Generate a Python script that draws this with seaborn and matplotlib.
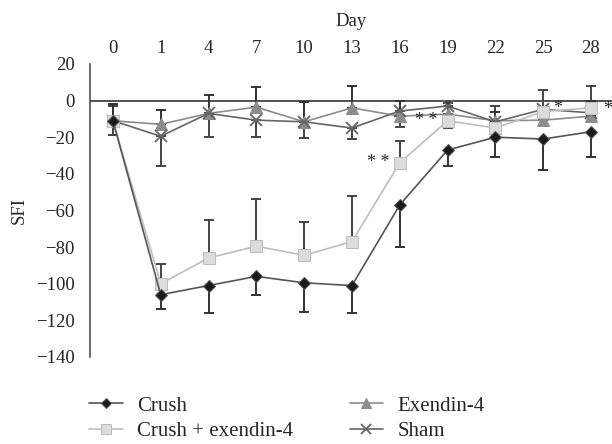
import numpy as np
import pandas as pd
import seaborn as sns
import matplotlib.pyplot as plt

days = ['0', '1', '4', '7', '10', '13', '16', '19', '22', '25', '28']

crush = [-11, -106, -101, -96, -99.5, -101, -57, -27, -20, -21, -17]
crush_err = [8, 8, 15, 10, 16, 15, 23, 9, 11, 17, 14]           # drawn downward
crush_ex = [-11, -100, -86, -79.5, -84.5, -77, -34, -11, -15, -6, -4]
crush_ex_err = [8, 11, 21, 26, 18, 25, 12, 10, 12, 12, 12]      # drawn upward
exendin = [-11, -13, -7, -3.6, -11.6, -4, -8.5, -7.4, -11, -10.7, -8.5]
exendin_err = [9, 8, 10, 11, 11, 12, 8, 6, 5, 7, 8]               # drawn upward
sham = [-11, -19.5, -7, -10.7, -11.6, -15, -5.7, -3, -11.6, -4.8, -6.7]
sham_err = [8, 16, 13, 9, 9, 6, 9, 12, 5, 5, 5]                   # drawn downward

x = np.arange(len(days))
df = pd.DataFrame({'pos': x, 'Crush': crush, 'Crush + exendin-4': crush_ex,
                   'Exendin-4': exendin, 'Sham': sham})

sns.set_style('white')
plt.rcParams['font.family'] = ['Liberation Serif', 'DejaVu Serif']

fig = plt.figure(figsize=(6.12, 4.44), dpi=100)
ax = fig.add_axes([0.147, 0.196, 0.853, 0.66])

ax.axhline(0, color='#222222', lw=1.1, zorder=1)

# error bars (one sided)
ax.errorbar(x, crush, yerr=[crush_err, np.zeros(len(x))], fmt='none',
            ecolor='#333333', elinewidth=1.4, capsize=3.5, capthick=1.4, zorder=2)
ax.errorbar(x, crush_ex, yerr=[np.zeros(len(x)), crush_ex_err], fmt='none',
            ecolor='#444444', elinewidth=1.4, capsize=3.5, capthick=1.4, zorder=2)
ax.errorbar(x, exendin, yerr=[np.zeros(len(x)), exendin_err], fmt='none',
            ecolor='#333333', elinewidth=1.4, capsize=3.5, capthick=1.4, zorder=2)
ax.errorbar(x, sham, yerr=[sham_err, np.zeros(len(x))], fmt='none',
            ecolor='#444444', elinewidth=1.4, capsize=3.5, capthick=1.4, zorder=2)

sns.lineplot(data=df, x='pos', y='Crush', ax=ax, color='#555555', lw=1.2,
             marker='D', markersize=6, markerfacecolor='#1a1a1a',
             markeredgecolor='#555555', label='Crush', zorder=5)
sns.lineplot(data=df, x='pos', y='Crush + exendin-4', ax=ax, color='#bdbdbd', lw=1.2,
             marker='s', markersize=9, markerfacecolor='#dcdcdc',
             markeredgecolor='#bdbdbd', label='Crush + exendin-4', zorder=4)
sns.lineplot(data=df, x='pos', y='Exendin-4', ax=ax, color='#8c8c8c', lw=1.2,
             marker='^', markersize=9, markerfacecolor='#8c8c8c',
             markeredgecolor='#8c8c8c', label='Exendin-4', zorder=3)
sns.lineplot(data=df, x='pos', y='Sham', ax=ax, color='#666666', lw=1.2,
             marker='x', markersize=9, markeredgewidth=1.3, markeredgecolor='#666666',
             label='Sham', zorder=3)

# significance marks
ax.text(6 - 0.22, crush_ex[6], '* *', ha='right', va='center', fontsize=13)
ax.text(7 - 0.22, crush_ex[7], '* *', ha='right', va='center', fontsize=13)
ax.text(9 + 0.2, sham[9] + 0.5, '*', ha='left', va='center', fontsize=13)
ax.text(10 + 0.25, crush_ex[10] - 1, '*', ha='left', va='center', fontsize=13)

ax.set_xlim(-0.48, 10.44)
ax.set_ylim(-140, 20)
ax.set_yticks(np.arange(-140, 21, 20))
ax.set_yticklabels([str(v).replace('-', '\u2212') for v in range(-140, 21, 20)])
ax.set_xticks(x)
ax.set_xticklabels(days)
ax.xaxis.tick_top()
ax.xaxis.set_label_position('top')
ax.set_xlabel('Day', fontsize=13.5, labelpad=10)
ax.set_ylabel('SFI', fontsize=13.5, labelpad=6)
ax.tick_params(axis='x', length=0, labelsize=13.5, pad=5)
ax.tick_params(axis='y', length=0, labelsize=13.5, pad=11)

for s in ['top', 'right', 'bottom']:
    ax.spines[s].set_visible(False)
ax.spines['left'].set_color('#444444')
ax.spines['left'].set_linewidth(1.1)

ax.legend(loc='upper left', bbox_to_anchor=(-0.017, -0.105), ncol=2, frameon=False,
          fontsize=15, handlelength=1.62, columnspacing=2.7, labelspacing=0.3,
          handletextpad=0.67, markerscale=0.8, borderaxespad=0)

plt.savefig('out.png', dpi=100)
